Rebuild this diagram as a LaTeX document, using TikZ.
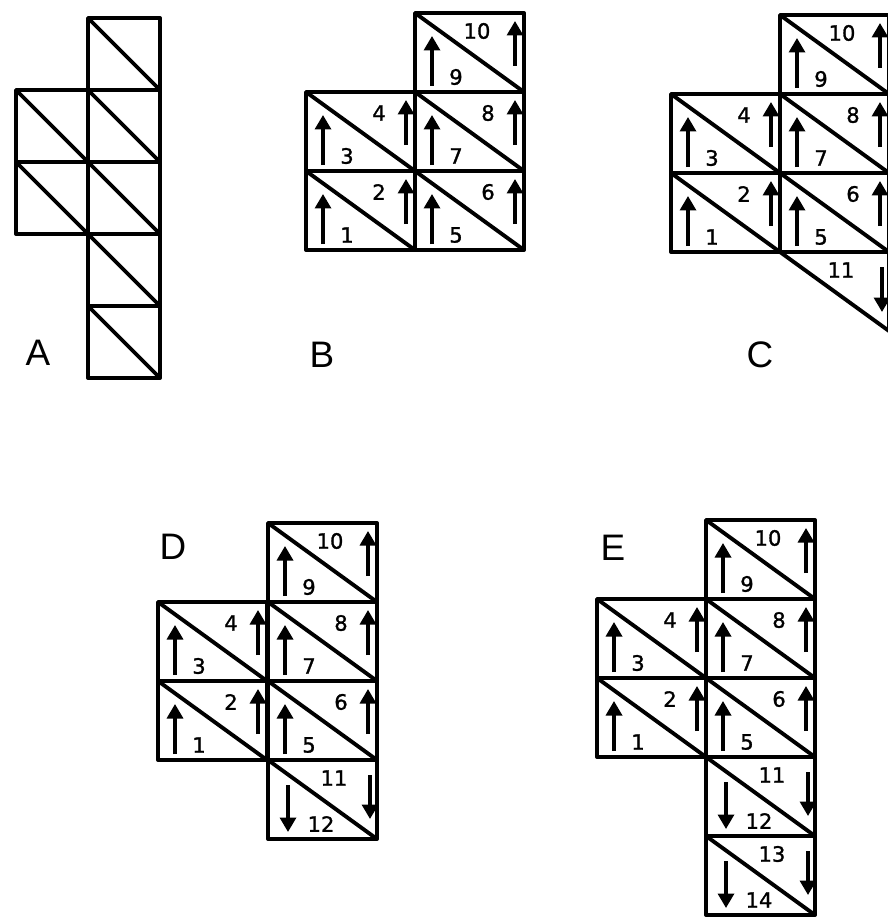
\documentclass[tikz,border=0pt]{standalone}
\usepackage{fontspec}
\setmainfont{Liberation Sans}
\newfontfamily\digitfont[FakeBold=1.3]{DejaVu Sans}
\usetikzlibrary{arrows.meta}

% one square of the net: frame plus its diagonal
\newcommand{\gridcell}[4]{%
  \draw[edge] (#1,#2) rectangle ++(#3,#4);
  \draw[edge] (#1,#2) -- ++(#3,#4);
}
% cell with two upward arrows: x, y, lower number, upper number, prefix
\newcommand{\upcell}[5]{%
  \gridcell{#1}{#2}{109}{79}
  \draw[flow] (#1+17,#2+73) -- (#1+17,#2+23);
  \draw[flow] (#1+100,#2+53) -- (#1+100,#2+8);
  \node[num] (#5-#3) at (#1+41,#2+64) {#3};
  \ifnum#4>9 \node[num] (#5-#4) at (#1+62,#2+18) {#4};
  \else \node[num] (#5-#4) at (#1+73,#2+21) {#4}; \fi
}
% cell with two downward arrows: x, y, upper number, lower number, prefix
\newcommand{\downcell}[5]{%
  \gridcell{#1}{#2}{109}{79}
  \draw[flow] (#1+20,#2+25) -- (#1+20,#2+72);
  \draw[flow] (#1+102,#2+15) -- (#1+102,#2+59);
  \node[num] (#5-#3) at (#1+66,#2+18) {#3};
  \node[num] (#5-#4) at (#1+53,#2+64) {#4};
}

\begin{document}
\begin{tikzpicture}[
    x=0.02cm, y=-0.02cm,
    edge/.style={line width=2.2pt, line join=round},
    flow/.style={line width=1.9pt, -{Triangle[length=0.29cm, width=0.32cm]}},
    num/.style={font=\digitfont\fontsize{12}{14}\selectfont, inner sep=0pt},
    panel/.style={font=\fontsize{21}{25}\selectfont, inner sep=0pt}
]
\useasboundingbox (0,0) rectangle (887,919);

% A
\gridcell{88}{18}{72}{72}
\gridcell{16}{90}{72}{72}
\gridcell{88}{90}{72}{72}
\gridcell{16}{162}{72}{72}
\gridcell{88}{162}{72}{72}
\gridcell{88}{234}{72}{72}
\gridcell{88}{306}{72}{72}
\node[panel] (labA) at (38,353) {A};

% B
\upcell{415}{13}{9}{10}{b}
\upcell{306}{92}{3}{4}{b}
\upcell{415}{92}{7}{8}{b}
\upcell{306}{171}{1}{2}{b}
\upcell{415}{171}{5}{6}{b}
\node[panel] (labB) at (322,355) {B};

% C
\upcell{780}{15}{9}{10}{c}
\upcell{671}{94}{3}{4}{c}
\upcell{780}{94}{7}{8}{c}
\upcell{671}{173}{1}{2}{c}
\upcell{780}{173}{5}{6}{c}
\draw[edge] (780,252) -- ++(109,79) -- ++(0,-79);
\draw[flow] (882,267) -- (882,312);
\node[num] (c-11) at (841,270) {11};
\node[panel] (labC) at (760,355) {C};

% D
\upcell{268}{523}{9}{10}{d}
\upcell{158}{602}{3}{4}{d}
\upcell{268}{602}{7}{8}{d}
\upcell{158}{681}{1}{2}{d}
\upcell{268}{681}{5}{6}{d}
\downcell{268}{760}{11}{12}{d}
\node[panel] (labD) at (173,547) {D};

% E
\upcell{706}{520}{9}{10}{e}
\upcell{597}{599}{3}{4}{e}
\upcell{706}{599}{7}{8}{e}
\upcell{597}{678}{1}{2}{e}
\upcell{706}{678}{5}{6}{e}
\downcell{706}{757}{11}{12}{e}
\downcell{706}{836}{13}{14}{e}
\node[panel] (labE) at (613,548) {E};
\end{tikzpicture}
\end{document}
